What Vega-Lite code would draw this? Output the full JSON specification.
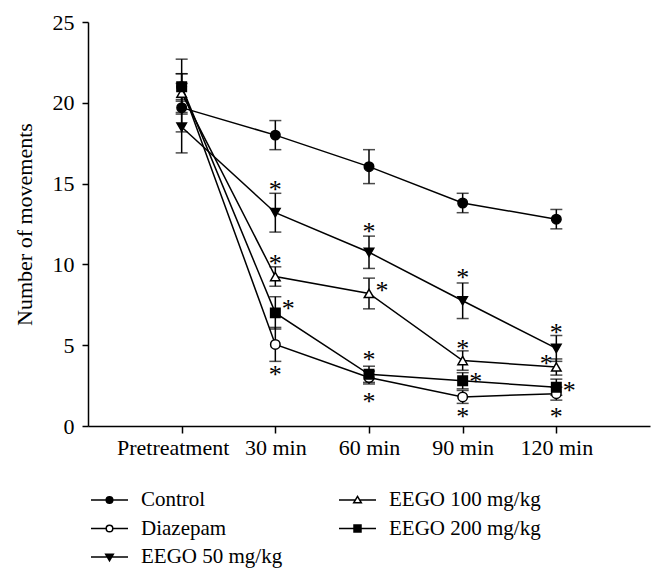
{
  "$schema": "https://vega.github.io/schema/vega-lite/v6.json",
  "width": 562,
  "height": 404,
  "autosize": "none",
  "padding": {"left": 88, "top": 22, "right": 14, "bottom": 156},
  "background": "white",
  "config": {
    "view": {"stroke": null},
    "font": "Liberation Serif",
    "axis": {"grid": false, "domainColor": "black", "tickColor": "black", "labelColor": "black", "titleColor": "black", "domainWidth": 1.5, "tickWidth": 1.5, "labelFont": "Liberation Serif", "titleFont": "Liberation Serif", "labelFontSize": 22, "titleFontSize": 22, "titleFontWeight": "normal"}
  },
  "datasets": {
    "means": [
      {"time": "Pretreatment", "series": "Control", "mean": 19.7, "err": 1.5},
      {"time": "30 min", "series": "Control", "mean": 18.0, "err": 0.9},
      {"time": "60 min", "series": "Control", "mean": 16.05, "err": 1.05},
      {"time": "90 min", "series": "Control", "mean": 13.8, "err": 0.6},
      {"time": "120 min", "series": "Control", "mean": 12.8, "err": 0.6},
      {"time": "Pretreatment", "series": "Diazepam", "mean": 21.0, "err": 1.7},
      {"time": "30 min", "series": "Diazepam", "mean": 5.05, "err": 1.05},
      {"time": "60 min", "series": "Diazepam", "mean": 3.0, "err": 0.4},
      {"time": "90 min", "series": "Diazepam", "mean": 1.8, "err": 0.4},
      {"time": "120 min", "series": "Diazepam", "mean": 2.0, "err": 0.4},
      {"time": "Pretreatment", "series": "EEGO 50 mg/kg", "mean": 18.5, "err": 1.6},
      {"time": "30 min", "series": "EEGO 50 mg/kg", "mean": 13.2, "err": 1.2},
      {"time": "60 min", "series": "EEGO 50 mg/kg", "mean": 10.75, "err": 1.0},
      {"time": "90 min", "series": "EEGO 50 mg/kg", "mean": 7.75, "err": 1.1},
      {"time": "120 min", "series": "EEGO 50 mg/kg", "mean": 4.8, "err": 0.8},
      {"time": "Pretreatment", "series": "EEGO 100 mg/kg", "mean": 20.6, "err": 1.2},
      {"time": "30 min", "series": "EEGO 100 mg/kg", "mean": 9.25, "err": 0.6},
      {"time": "60 min", "series": "EEGO 100 mg/kg", "mean": 8.2, "err": 0.95},
      {"time": "90 min", "series": "EEGO 100 mg/kg", "mean": 4.05, "err": 0.6},
      {"time": "120 min", "series": "EEGO 100 mg/kg", "mean": 3.65, "err": 0.5},
      {"time": "Pretreatment", "series": "EEGO 200 mg/kg", "mean": 21.0, "err": 0.8},
      {"time": "30 min", "series": "EEGO 200 mg/kg", "mean": 7.0, "err": 1.0},
      {"time": "60 min", "series": "EEGO 200 mg/kg", "mean": 3.2, "err": 0.5},
      {"time": "90 min", "series": "EEGO 200 mg/kg", "mean": 2.8, "err": 0.5},
      {"time": "120 min", "series": "EEGO 200 mg/kg", "mean": 2.4, "err": 0.5}
    ],
    "stars": [
      {"time": "30 min", "series": "EEGO 50 mg/kg", "side": "center", "y": 15.0},
      {"time": "30 min", "series": "EEGO 100 mg/kg", "side": "center", "y": 10.4},
      {"time": "30 min", "series": "EEGO 200 mg/kg", "side": "right", "y": 7.6},
      {"time": "30 min", "series": "Diazepam", "side": "center", "y": 3.5},
      {"time": "60 min", "series": "EEGO 50 mg/kg", "side": "center", "y": 12.4},
      {"time": "60 min", "series": "EEGO 100 mg/kg", "side": "right", "y": 8.7},
      {"time": "60 min", "series": "EEGO 200 mg/kg", "side": "center", "y": 4.45},
      {"time": "60 min", "series": "Diazepam", "side": "center", "y": 1.85},
      {"time": "90 min", "series": "EEGO 50 mg/kg", "side": "center", "y": 9.5},
      {"time": "90 min", "series": "EEGO 100 mg/kg", "side": "center", "y": 5.15},
      {"time": "90 min", "series": "EEGO 200 mg/kg", "side": "right", "y": 3.1},
      {"time": "90 min", "series": "Diazepam", "side": "center", "y": 0.9},
      {"time": "120 min", "series": "EEGO 50 mg/kg", "side": "center", "y": 6.1},
      {"time": "120 min", "series": "EEGO 100 mg/kg", "side": "left", "y": 4.2},
      {"time": "120 min", "series": "EEGO 200 mg/kg", "side": "right", "y": 2.55},
      {"time": "120 min", "series": "Diazepam", "side": "center", "y": 0.9}
    ]
  },
  "encoding": {
    "x": {
      "field": "time", "type": "ordinal",
      "sort": ["Pretreatment", "30 min", "60 min", "90 min", "120 min"],
      "scale": {"type": "point", "padding": 1},
      "axis": {"title": null, "labelAngle": 0, "tickSize": 7, "labelPadding": 4,
        "labelOffset": {"condition": {"test": "datum.value === 'Pretreatment'", "value": -9}, "value": 0}}
    },
    "y": {"field": "mean", "type": "quantitative", "title": "Number of movements",
      "scale": {"domain": [0, 25], "nice": false},
      "axis": {"values": [0, 5, 10, 15, 20, 25], "tickSize": 6, "labelPadding": 8, "titlePadding": 16}}
  },
  "layer": [
    {
      "data": {"name": "means"},
      "mark": {"type": "line", "color": "black", "strokeWidth": 1.5},
      "encoding": {
        "detail": {"field": "series"}
      }
    },
    {
      "data": {"name": "means"},
      "mark": {"type": "errorbar", "ticks": true, "size": 12, "thickness": 1.5, "color": "black"},
      "encoding": {
        "yError": {"field": "err"}
      }
    },
    {
      "data": {"name": "means"},
      "mark": {"type": "point", "filled": true, "size": 90, "stroke": "black", "strokeWidth": 1.5, "opacity": 1},
      "encoding": {
        "shape": {"field": "series", "type": "nominal", "legend": null,
          "scale": {"domain": ["Control", "Diazepam", "EEGO 50 mg/kg", "EEGO 100 mg/kg", "EEGO 200 mg/kg"],
            "range": ["circle", "circle", "triangle-down", "triangle-up", "square"]}},
        "fill": {"field": "series", "type": "nominal", "legend": null,
          "scale": {"domain": ["Control", "Diazepam", "EEGO 50 mg/kg", "EEGO 100 mg/kg", "EEGO 200 mg/kg"],
            "range": ["black", "white", "black", "white", "black"]}}
      }
    },
    {
      "data": {"name": "means"},
      "transform": [{"filter": "datum.mean < 0"}],
      "mark": {"type": "point", "filled": false, "color": "black", "strokeWidth": 1.5, "opacity": 1},
      "encoding": {
        "shape": {"field": "series", "type": "nominal",
          "scale": {"domain": ["Control", "Diazepam", "EEGO 50 mg/kg", "EEGO 100 mg/kg", "EEGO 200 mg/kg"],
            "range": [
              "M-1.85,0H1.85M0.33,0A0.33,0.33 0 1,1 -0.33,0A0.33,0.33 0 1,1 0.33,0ZM0.2,0A0.2,0.2 0 1,1 -0.2,0A0.2,0.2 0 1,1 0.2,0ZM0.08,0A0.08,0.08 0 1,1 -0.08,0A0.08,0.08 0 1,1 0.08,0Z",
              "M-1.85,0H-0.33M0.33,0H1.85M0.33,0A0.33,0.33 0 1,1 -0.33,0A0.33,0.33 0 1,1 0.33,0Z",
              "M-1.85,0H1.85M-0.38,-0.28L0.38,-0.28L0,0.38ZM-0.23,-0.19L0.23,-0.19L0,0.2ZM-0.09,-0.11L0.09,-0.11L0,0.04Z",
              "M-1.85,0H-0.2M0.2,0H1.85M0,-0.36L0.38,0.28L-0.38,0.28Z",
              "M-1.85,0H1.85M-0.35,-0.35H0.35V0.35H-0.35ZM-0.22,-0.22H0.22V0.22H-0.22ZM-0.09,-0.09H0.09V0.09H-0.09Z"
            ]},
          "legend": {"orient": "none", "legendX": 10.5, "legendY": 467, "columns": 2, "columnPadding": 53, "rowPadding": 7.5,
            "padding": 0, "title": null, "symbolSize": 400, "symbolStrokeColor": "black", "symbolStrokeWidth": 1.5,
            "labelFont": "Liberation Serif", "labelFontSize": 21, "labelColor": "black", "labelOffset": 20.5, "labelLimit": 400}}
      }
    },
    {
      "data": {"name": "stars"},
      "transform": [{"filter": "datum.side === 'center'"}],
      "mark": {"type": "text", "text": "*", "font": "Liberation Serif", "fontSize": 26, "baseline": "alphabetic", "dy": 14, "fill": "black"},
      "encoding": {"y": {"field": "y", "type": "quantitative", "title": "Number of movements"}}
    },
    {
      "data": {"name": "stars"},
      "transform": [{"filter": "datum.side === 'right'"}],
      "mark": {"type": "text", "text": "*", "font": "Liberation Serif", "fontSize": 26, "baseline": "alphabetic", "dy": 14, "dx": 13, "fill": "black"},
      "encoding": {"y": {"field": "y", "type": "quantitative", "title": "Number of movements"}}
    },
    {
      "data": {"name": "stars"},
      "transform": [{"filter": "datum.side === 'left'"}],
      "mark": {"type": "text", "text": "*", "font": "Liberation Serif", "fontSize": 26, "baseline": "alphabetic", "dy": 14, "dx": -10, "fill": "black"},
      "encoding": {"y": {"field": "y", "type": "quantitative", "title": "Number of movements"}}
    }
  ],
  "resolve": {"scale": {"shape": "independent", "fill": "independent"}}
}
